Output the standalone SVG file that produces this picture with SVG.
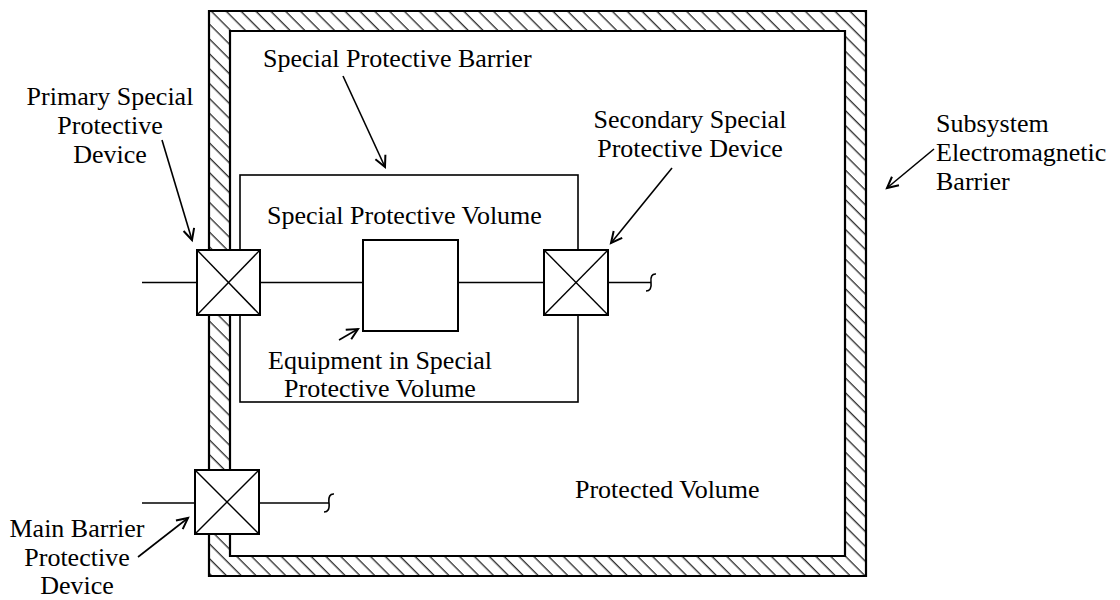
<svg xmlns="http://www.w3.org/2000/svg" width="1120" height="600" viewBox="0 0 1120 600">
<defs>
<pattern id="hatch" patternUnits="userSpaceOnUse" width="10.5" height="10.5" patternTransform="rotate(-45)">
<line x1="5" y1="-1" x2="5" y2="12" stroke="#000" stroke-width="1.1"/>
</pattern>
<marker id="ah" markerUnits="userSpaceOnUse" markerWidth="16" markerHeight="14" refX="13" refY="7" orient="auto">
<path d="M2,1.5 L13,7 L2,12.5" fill="none" stroke="#000" stroke-width="2"/>
</marker>
</defs>
<style>
text{font-family:"Liberation Serif","Times New Roman",serif;font-size:26px;fill:#000}
.mid{text-anchor:middle}
.box{fill:#fff;stroke:#000;stroke-width:2}
.x{stroke:#000;stroke-width:1.4}
.ln{stroke:#000;stroke-width:1.6;fill:none}
.arr{stroke:#000;stroke-width:1.6;fill:none;marker-end:url(#ah)}
</style>
<rect width="1120" height="600" fill="#fff"/>

<g id="subsystem-barrier">
<path d="M209,11 H866 V576 H209 Z M230,31 V556 H845 V31 Z" fill="url(#hatch)" fill-rule="evenodd" stroke="#000" stroke-width="2.2"/>
</g>

<g id="special-protective-volume">
<rect x="240" y="175" width="338" height="227" fill="none" stroke="#000" stroke-width="1.6"/>
<text x="267" y="224">Special Protective Volume</text>
</g>

<g id="connectors">
<line class="ln" x1="142" y1="282.5" x2="197" y2="282.5"/>
<line class="ln" x1="260" y1="282.5" x2="363" y2="282.5"/>
<line class="ln" x1="458" y1="282.5" x2="544" y2="282.5"/>
<line class="ln" x1="608" y1="282.5" x2="651" y2="282.5"/>
<path class="ln" d="M656,274 Q650,273.5 651,282.5 Q652,291 646,291"/>
<line class="ln" x1="142" y1="503" x2="195" y2="503"/>
<line class="ln" x1="259" y1="503" x2="329" y2="503"/>
<path class="ln" d="M334,494 Q328,493.5 329,503 Q330,512 324,512"/>
<line class="arr" x1="162" y1="140" x2="192" y2="240"/>
<line class="arr" x1="343" y1="76" x2="385" y2="167"/>
<line class="arr" x1="672" y1="168" x2="611" y2="243"/>
<line class="arr" x1="934" y1="149" x2="887" y2="188"/>
<line class="arr" x1="339" y1="340" x2="358" y2="329"/>
<line class="arr" x1="138" y1="557" x2="188" y2="518"/>
</g>

<g id="primary-spd">
<rect class="box" x="197" y="250" width="63" height="65"/>
<line class="x" x1="197" y1="250" x2="260" y2="315"/>
<line class="x" x1="260" y1="250" x2="197" y2="315"/>
</g>

<g id="secondary-spd">
<rect class="box" x="544" y="250" width="64" height="65"/>
<line class="x" x1="544" y1="250" x2="608" y2="315"/>
<line class="x" x1="608" y1="250" x2="544" y2="315"/>
</g>

<g id="main-barrier-pd">
<rect class="box" x="195" y="470" width="64" height="64"/>
<line class="x" x1="195" y1="470" x2="259" y2="534"/>
<line class="x" x1="259" y1="470" x2="195" y2="534"/>
</g>

<g id="equipment">
<rect class="box" x="363" y="240" width="95" height="91"/>
</g>

<g id="labels">
<text class="mid" x="110" y="105">Primary Special</text>
<text class="mid" x="110" y="134">Protective</text>
<text class="mid" x="110" y="163">Device</text>
<text x="263" y="67">Special Protective Barrier</text>
<text class="mid" x="690" y="128">Secondary Special</text>
<text class="mid" x="690" y="157">Protective Device</text>
<text x="936" y="132">Subsystem</text>
<text x="936" y="161">Electromagnetic</text>
<text x="936" y="190">Barrier</text>
<text class="mid" x="380" y="369">Equipment in Special</text>
<text class="mid" x="380" y="397">Protective Volume</text>
<text x="575" y="498">Protected Volume</text>
<text class="mid" x="77" y="537">Main Barrier</text>
<text class="mid" x="77" y="566">Protective</text>
<text class="mid" x="77" y="594">Device</text>
</g>
</svg>
